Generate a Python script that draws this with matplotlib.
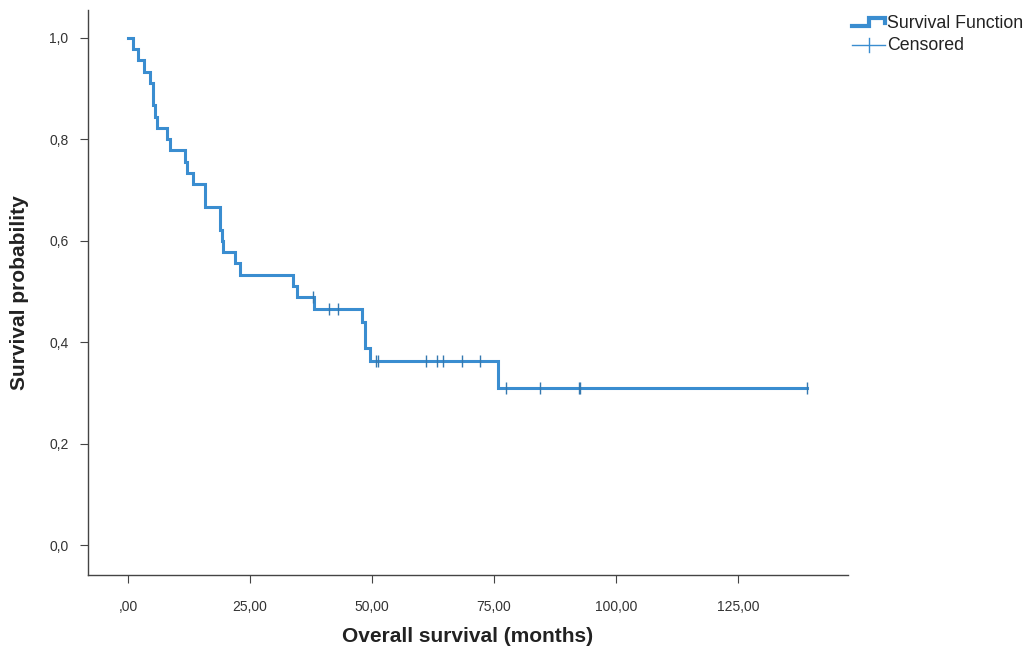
import numpy as np
import matplotlib.pyplot as plt
from matplotlib.lines import Line2D

plt.rcParams['font.family'] = ['Liberation Sans', 'DejaVu Sans']

# Kaplan-Meier steps (time in months, survival after the step)
event_times = [0, 1.1, 2.0, 3.3, 4.4, 5.2, 5.5, 6.0, 8.0, 8.6, 11.7, 12.1, 13.3,
               15.8, 18.9, 19.2, 19.5, 21.9, 23.0, 33.9, 34.6, 38.1, 48.0, 48.6,
               49.6, 75.7]
survival = [1.0, 0.978, 0.956, 0.933, 0.911, 0.867, 0.844, 0.822, 0.800, 0.778,
            0.756, 0.733, 0.711, 0.667, 0.622, 0.600, 0.578, 0.556, 0.533, 0.511,
            0.489, 0.466, 0.440, 0.388, 0.362, 0.310]
last_time = 139.1
censored_times = [37.8, 41.2, 43.1, 50.8, 51.3, 61.1, 63.3, 64.5, 68.4, 72.1,
                  77.4, 84.4, 92.3, 92.6, 139.1]

x_ticks = [0, 25, 50, 75, 100, 125]
x_labels = [',00', '25,00', '50,00', '75,00', '100,00', '125,00']
y_ticks = [0.0, 0.2, 0.4, 0.6, 0.8, 1.0]
y_labels = ['0,0', '0,2', '0,4', '0,6', '0,8', '1,0']

color = '#3a8dd0'
tick_color = '#3579b0'

fig = plt.figure(figsize=(10.28, 6.56), dpi=100)
ax = fig.add_axes([88 / 1028, 81 / 656, 760 / 1028, 565 / 656])

t = np.array(event_times + [last_time])
s = np.array(survival + [survival[-1]])
ax.step(t, s, where='post', color=color, lw=2.2, solid_joinstyle='miter')

# censor marks sit on the curve at the step value
idx = np.searchsorted(np.array(event_times), censored_times, side='right') - 1
cens_y = np.array(survival)[idx]
ax.plot(censored_times, cens_y, linestyle='none', marker='|', markersize=9,
        markeredgewidth=1.0, color=tick_color)

ax.set_xlim(-8.2, 147.5)
ax.set_ylim(-0.059, 1.055)
ax.set_xticks(x_ticks)
ax.set_xticklabels(x_labels)
ax.set_yticks(y_ticks)
ax.set_yticklabels(y_labels)

for side in ['top', 'right']:
    ax.spines[side].set_visible(False)
for side in ['left', 'bottom']:
    ax.spines[side].set_color('#444444')
    ax.spines[side].set_linewidth(1.0)

ax.tick_params(axis='x', direction='out', length=6, width=0.8, colors='#444444',
               labelcolor='#333333', labelsize=10, pad=12)
ax.tick_params(axis='y', direction='out', length=6, width=0.8, colors='#444444',
               labelcolor='#333333', labelsize=10, pad=8)

ax.set_xlabel('Overall survival (months)', fontsize=15, fontweight='bold',
              color='#222222', va='center')
ax.xaxis.set_label_coords(0.5, (575 - 637) / 565)
ax.set_ylabel('Survival probability', fontsize=15, fontweight='bold',
              color='#222222', va='center')
ax.yaxis.set_label_coords((20 - 88) / 760, 0.5)

# legend drawn by hand, to the right of the plot (text runs off the edge)
W, H = 1028, 656


def fx(px):
    return px / W


def fy(py):
    return 1 - py / H


step_icon = Line2D([fx(852), fx(869), fx(869), fx(885), fx(885)],
                   [fy(26), fy(26), fy(18), fy(18), fy(23)],
                   color=color, lw=3, solid_joinstyle='miter',
                   transform=fig.transFigure)
fig.add_artist(step_icon)
fig.text(fx(887), fy(23), 'Survival Function', fontsize=12.8, color='#222222',
         va='center', ha='left')

cens_icon = Line2D([fx(852), fx(885)], [fy(45), fy(45)], color=color, lw=1.0,
                   transform=fig.transFigure)
fig.add_artist(cens_icon)
cens_tick = Line2D([fx(869), fx(869)], [fy(38), fy(52)], color=color, lw=1.0,
                   transform=fig.transFigure)
fig.add_artist(cens_tick)
fig.text(fx(887), fy(45), 'Censored', fontsize=12.8, color='#222222',
         va='center', ha='left')

fig.savefig('out.png', dpi=100)
